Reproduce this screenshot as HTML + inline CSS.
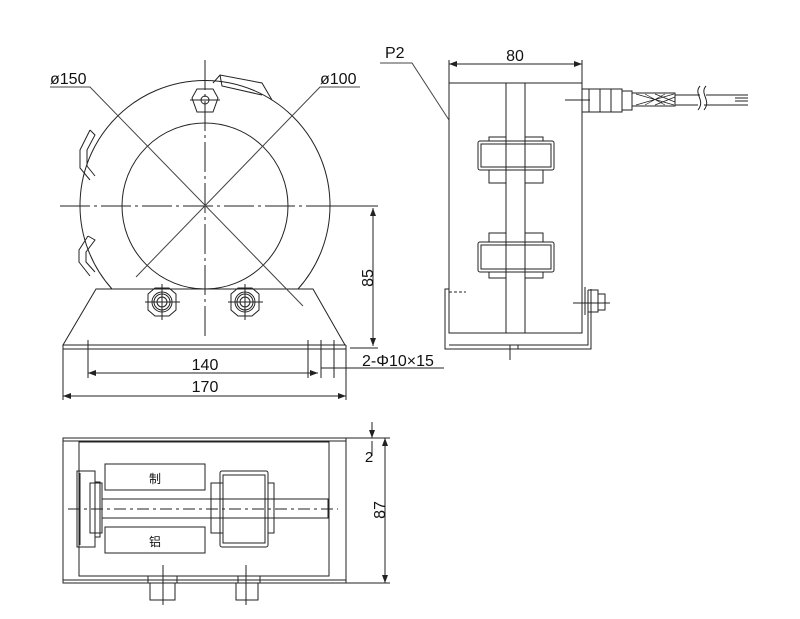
<!DOCTYPE html><html><head><style>body{margin:0;background:#fff}svg{display:block}text{font-family:"Liberation Sans","Noto Sans CJK SC",sans-serif;fill:#111}</style></head><body>
<svg width="800" height="619" viewBox="0 0 800 619" xmlns="http://www.w3.org/2000/svg" fill="none" stroke="#222" stroke-width="1">
<defs><marker id="a" markerWidth="8" markerHeight="6" refX="8" refY="3" orient="auto-start-reverse"><path d="M0,0L8,3L0,6z" fill="#222" stroke="none"/></marker></defs>
<!-- front view -->
<path d="M112,289 A125,125 0 1 1 298,289"/>
<circle cx="205" cy="206" r="83"/>
<path d="M213,83 L220,75 L262,83 L272,100 M220,75 L222,86 L262,95"/>
<path d="M90,130 L80,150 L80,168 L90,180 M90,130 L95,135 L87,150 L87,166 L95,176"/>
<path d="M88,236 L79,250 L79,262 L90,276 M88,236 L95,240 L86,252 L86,262 L95,272"/>
<path d="M197,89 L213,89 L218,98 L213,112 L197,112 L192,98Z"/><circle cx="205" cy="100" r="4"/><path d="M190,100H220"/>
<path d="M60,206H350" stroke-dasharray="30,4,3,4"/><path d="M205,60V340" stroke-dasharray="30,4,3,4"/>
<path d="M96,289H313L345,345H63Z"/><path d="M63,345V349H346V345"/><path d="M63,345H346" stroke-dasharray="8,3"/>
<path d="M148,294L155,288H169L176,294V310L169,316H155L148,310Z"/><circle cx="162" cy="302" r="10"/><circle cx="162" cy="302" r="8"/><circle cx="162" cy="302" r="5"/><path d="M145,302H180M162,284V320"/>
<path d="M231,294L238,288H252L259,294V310L252,316H238L231,310Z"/><circle cx="245" cy="302" r="10"/><circle cx="245" cy="302" r="8"/><circle cx="245" cy="302" r="5"/><path d="M228,302H263M245,284V320"/>
<path d="M50,87H90L303,306" stroke="#444"/><path d="M360,87H320L136,277" stroke="#444"/>
<text x="50" y="84" font-size="16" stroke="none">ø150</text><text x="320" y="84" font-size="16" stroke="none">ø100</text>
<path d="M335,206H378M350,348H378"/><path d="M373,208V346" marker-start="url(#a)" marker-end="url(#a)"/>
<text transform="translate(373,278) rotate(-90)" font-size="16" stroke="none" text-anchor="middle">85</text>
<path d="M88,340V378M308,340V378M321,340V378M334,340V378M346,349V400M63,349V400"/>
<path d="M88,373H318" marker-start="url(#a)" marker-end="url(#a)"/><path d="M321,368H444"/>
<path d="M63,396H346" marker-start="url(#a)" marker-end="url(#a)"/>
<text x="205" y="370" font-size="16" stroke="none" text-anchor="middle">140</text>
<text x="205" y="392" font-size="16" stroke="none" text-anchor="middle">170</text>
<text x="362" y="366" font-size="16" stroke="none">2-Φ10×15</text>
<!-- side view -->
<text x="385" y="58" font-size="16" stroke="none">P2</text><path d="M380,63H412L449,120" stroke="#444"/>
<path d="M449,60V83M582,60V83"/><path d="M449,64H582" marker-start="url(#a)" marker-end="url(#a)"/>
<text x="515" y="61" font-size="16" stroke="none" text-anchor="middle">80</text>
<rect x="449" y="83" width="133" height="250"/><path d="M506,83V333M525,83V333"/>
<rect x="478" y="141" width="76" height="29" rx="2"/><rect x="481" y="144" width="70" height="23"/><path d="M489,141V137H506M525,137H543V141M489,170V183H506M525,183H543V170"/>
<rect x="478" y="242" width="76" height="30" rx="2"/><rect x="481" y="245" width="70" height="24"/><path d="M489,242V233H506M525,233H543V242M489,272V278H506M525,278H543V272"/>
<path d="M449,289H445V349H591V289M449,345H588V290M510,345V360M518,345V349"/><path d="M449,292H466" stroke-dasharray="3,2"/>
<path d="M585,287V315M588,290H598V312H588M598,294H605V310H598M573,303H610"/>
<path d="M582,88V113M582,89H622V112H582M589,89V112M600,89V112M611,89V112M622,91H632V110H622M632,93H675V106H632M675,95H700M706,95H748M675,105H698M704,105H748M735,98H748M735,101H748M565,100H590"/>
<path d="M636,94L674,105M636,105L674,94M645,94L665,105M645,105L665,94M655,94L675,102M655,105L675,97" stroke-width=".7"/>
<path d="M700,86C693,94 706,100 698,110M706,86C699,94 712,100 704,110"/>
<!-- top view -->
<rect x="63" y="438" width="283" height="145"/><path d="M63,441H346M63,580H346"/><rect x="79" y="442" width="250" height="134"/>
<rect x="105" y="464" width="100" height="26"/><rect x="105" y="527" width="100" height="26"/>
<text x="155" y="483" font-size="12" stroke="none" text-anchor="middle">制</text><text x="155" y="546" font-size="12" stroke="none" text-anchor="middle">铝</text>
<rect x="77" y="471" width="18" height="76"/><path d="M80,473V545M95,482H100V537H95"/><rect x="90" y="483" width="12" height="50"/>
<path d="M102,499H328V518H102"/><rect x="211" y="483" width="12" height="50"/>
<rect x="220" y="471" width="48" height="76" rx="2"/><rect x="223" y="475" width="42" height="68"/><rect x="268" y="483" width="6" height="50"/>
<path d="M68,509H338" stroke-dasharray="12,4,3,4"/>
<path d="M148,576H177V583H148ZM150,583H175V600H150ZM163,565V605M238,576H260V583H238ZM236,583H258V600H236ZM246,565V605"/>
<path d="M346,438H390M346,583H390"/><path d="M385,438V583" marker-start="url(#a)" marker-end="url(#a)"/>
<path d="M372,422V438" marker-end="url(#a)"/><path d="M372,441V456"/>
<text x="369" y="462" font-size="15" stroke="none" text-anchor="middle">2</text>
<text transform="translate(385,510) rotate(-90)" font-size="16" stroke="none" text-anchor="middle">87</text>
</svg></body></html>
